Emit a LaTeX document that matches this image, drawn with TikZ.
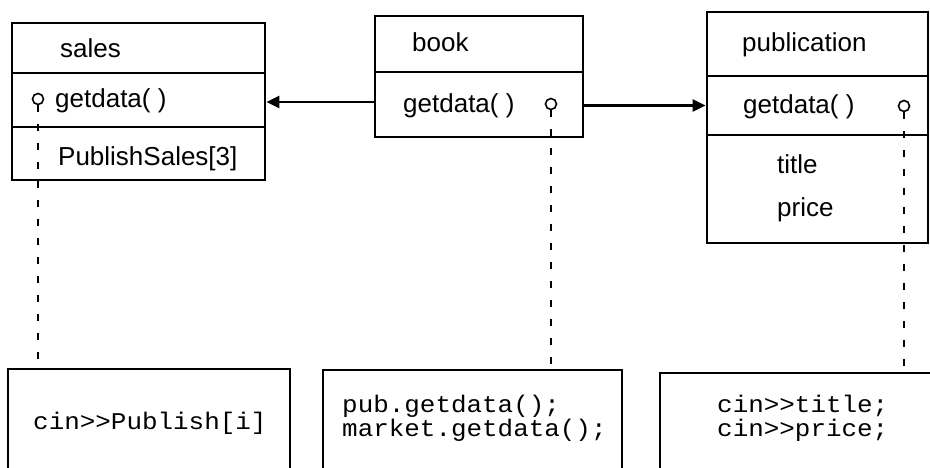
\documentclass[tikz,border=0pt]{standalone}
\usepackage{fontspec}
\setmainfont{Liberation Sans}
\setmonofont{Liberation Mono}[FakeStretch=1.08]
\usetikzlibrary{arrows.meta}
\tikzset{
 comp/.style={draw, line width=2.8pt, inner sep=0pt},
 lbl/.style={anchor=base west, inner sep=0pt, font=\fontsize{26}{30}\selectfont},
 code/.style={anchor=base west, inner sep=0pt, font=\ttfamily\fontsize{24}{28}\selectfont},
 port/.style={circle, draw, line width=1.6pt, minimum size=11pt, inner sep=0pt},
 life/.style={line width=2.4pt, dash pattern=on 7pt off 12pt},
 msg/.style={line width=2.4pt, -{Triangle[length=13pt,width=12pt]}},
}
\begin{document}
\begin{tikzpicture}[x=1pt,y=-1pt]
\useasboundingbox (0,0) rectangle (930,468);
\fill[white] (0,0) rectangle (930,468);
\clip (0,0) rectangle (930,468);
% sales
\node[comp, minimum width=253pt, minimum height=50pt] (s1) at (138.5,48) {};
\node[comp, minimum width=253pt, minimum height=54pt] (s2) at (138.5,100) {};
\node[comp, minimum width=253pt, minimum height=53pt] (s3) at (138.5,153.5) {};
\node[lbl] (ts1) at (60,58) {sales};
\node[lbl] (ts2) at (55,108) {getdata( )};
\node[lbl] (ts3) at (58,166) {PublishSales[3]};
% book
\node[comp, minimum width=208pt, minimum height=56pt] (b1) at (479,44) {};
\node[comp, minimum width=208pt, minimum height=65pt] (b2) at (479,104.5) {};
\node[lbl] (tb1) at (412,52) {book};
\node[lbl] (tb2) at (403,113) {getdata( )};
% publication
\node[comp, minimum width=221pt, minimum height=64pt] (p1) at (817.5,44) {};
\node[comp, minimum width=221pt, minimum height=59pt] (p2) at (817.5,105.5) {};
\node[comp, minimum width=221pt, minimum height=108pt] (p3) at (817.5,189) {};
\node[lbl] (tp1) at (742,52) {publication};
\node[lbl] (tp2) at (743,114) {getdata( )};
\node[lbl] (tp3) at (777,174) {title};
\node[lbl] (tp4) at (777,217) {price};
% code boxes
\node[comp, minimum width=282pt, minimum height=120pt] (c1) at (149,429) {};
\node[comp, minimum width=299pt, minimum height=120pt] (c2) at (472.5,430) {};
\node[comp, minimum width=280pt, minimum height=120pt] (c3) at (800,433) {};
\node[code] (tc1) at (33,429) {cin>{}>Publish[i]};
\node[code] (tc2) at (342,412) {pub.getdata();};
\node[code] (tc3) at (342,436) {market.getdata();};
\node[code] (tc4) at (717,412) {cin>{}>title;};
\node[code] (tc5) at (717,436) {cin>{}>price;};
% ports and lifelines
\node[port] (ps) at (38,99) {};
\node[port] (pb) at (551,104) {};
\node[port] (pp) at (904,106) {};
\draw[life] (ps.south) -- (ps.south |- c1.north);
\draw[life] (pb.south) -- (pb.south |- c2.north);
\draw[life] (pp.south) -- (pp.south |- c3.north);
% messages
\coordinate (ya) at (0,102);
\draw[msg] (b2.west |- ya) -- (s2.east |- ya);
\draw[msg] (b2.east |- p2.west) -- (p2.west);
\end{tikzpicture}
\end{document}
